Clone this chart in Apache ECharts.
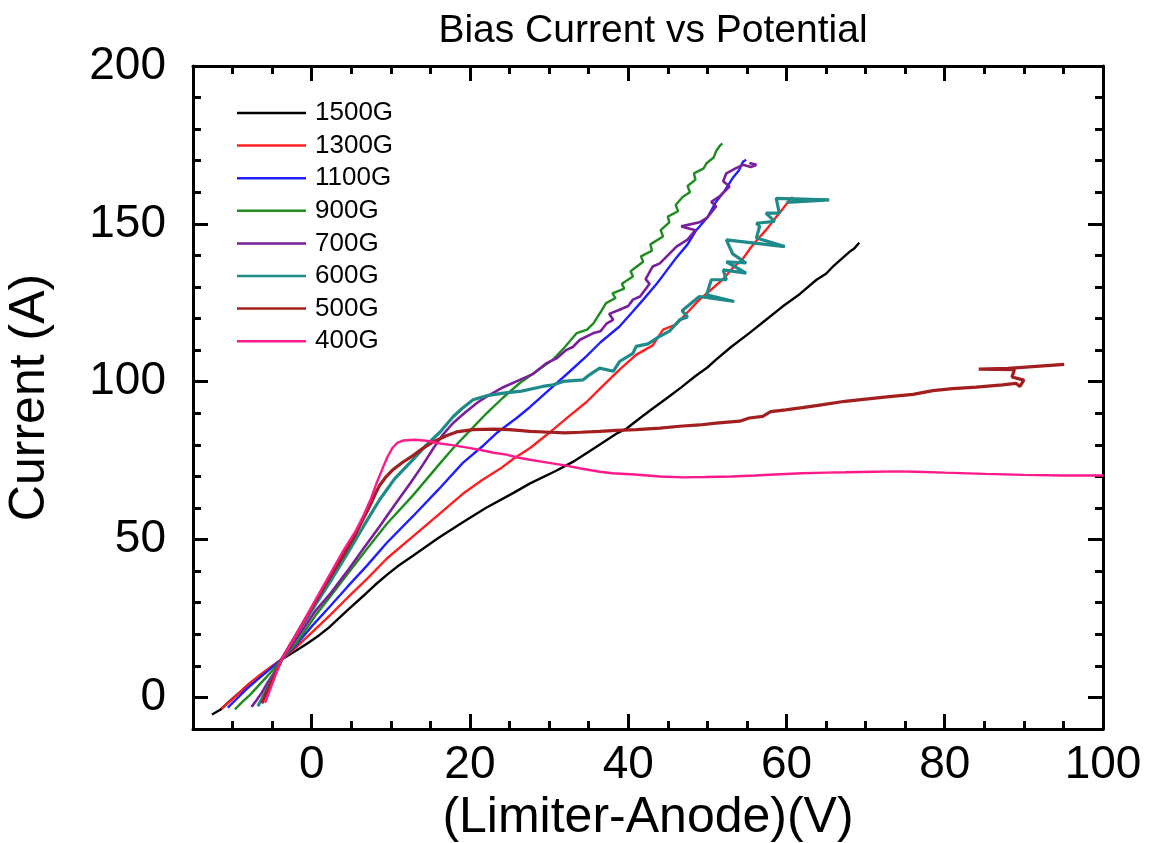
<!DOCTYPE html>
<html>
<head>
<meta charset="utf-8">
<script src="https://cdn.jsdelivr.net/npm/echarts@6/dist/echarts.min.js"></script>
<style>
html,body{margin:0;padding:0;background:#fff;}
#chart{width:1151px;height:843px;}
</style>
</head>
<body>
<div id="chart"></div>
<script>
// ---- data: [potential (V), current (A)] ----
const seriesNames = ['1500G','1300G','1100G','900G','700G','600G','500G','400G'];
const seriesColors = ['#000000','#ff1f1f','#1f1fff','#1e8c1e','#7a1e9c','#1e8a8a','#a31f1f','#ff1a8c'];

const g1500 = [[-12.6,-5.4],[-11.5,-3.8],[-10.3,-1],[-9,1.8],[-7.8,4.5],[-6.5,7],[-5.2,9.5],[-3.8,12],[-2,14.8],[-0.6,17],[1,19.8],[2.3,22.4],[4.5,27.6],[6.9,33],[8,35.6],[9.5,38.8],[11,41.8],[12.8,44.9],[16,50.5],[19.1,55.5],[22,60],[25.5,64.8],[27.6,67.8],[30.9,71.8],[33,74.6],[35.6,78.8],[38.5,83.5],[39.8,85.2],[41.5,88.5],[43.1,91.5],[45,95],[46.7,98.2],[48.5,101.8],[50,104.5],[51.1,107],[53,111],[55.3,115.4],[57.5,119.8],[59.5,123.8],[61.7,127.8],[63.8,132.3],[65,134.2],[66,136.8],[67,139],[68,141.2],[68.6,142.3],[69.2,144]];
const g1300 = [[-11.4,-3.6],[-10.3,-1.2],[-9,1.8],[-7.8,4.5],[-6.5,7.2],[-5.2,9.6],[-3.8,12],[-2,15.8],[0,20.5],[2.3,26],[4.5,31.5],[6.9,37.3],[9.5,44],[12.8,51],[16,57.8],[19.1,64.5],[21.5,68.8],[23.8,72.4],[25.5,75.6],[27.6,79],[30.5,84.8],[32.5,89],[34.7,93.5],[36.5,98],[38.9,103.8],[41,108.5],[43.1,111.5],[44.4,116.5],[46.1,118.2],[47.5,122],[49,126],[50.5,129.2],[52,132.5],[53.2,136],[54.5,139],[55.5,142.5],[56.5,145.5],[57.4,148],[58.5,151.5],[59.3,154],[60.4,157.6],[60.8,158.5]];
const g1100 = [[-10.6,-3.2],[-9.5,-0.5],[-8.3,2.5],[-7,5.3],[-5.5,8.5],[-3.8,12],[-2,16.5],[0,22.5],[2.3,28.8],[4.5,35],[6.9,41.5],[9.5,49],[12.8,57.4],[16,65.8],[19.1,74.3],[21.7,79.8],[23.5,84],[25.9,88.5],[27.6,92],[30.5,98.5],[32.5,103],[34.7,108],[36.5,112.5],[38.9,117.5],[40.5,122],[41.9,126],[43.6,131],[44.5,134],[46,139],[47.5,143.5],[48.6,148],[50,152],[51.1,157],[52.2,160.5],[53.2,164.5],[54,167],[54.5,169.7],[54.9,170.3]];
const g900 = [[-9.7,-3.8],[-8.8,-1.5],[-7.8,0.8],[-6.8,3.5],[-5.7,6.5],[-4.8,9],[-3.8,12],[-2,17],[0.5,26],[2.3,31.8],[4.5,39],[6.9,46.8],[9.5,55],[12.8,64],[16,73.5],[17.9,79],[20,84.5],[22.1,90],[24.2,95],[26.3,99.6],[28.5,103.5],[30.5,107],[32,111],[33.5,115.4],[34.8,116.5],[35.6,118.5],[36.5,122],[37.2,124.9],[38.4,126.5],[38,128],[39.5,129.5],[39.2,131],[40.6,133.3],[40.3,135],[41.9,138],[41.6,139.7],[43,141.5],[42.8,143.5],[44.4,146],[44.1,148],[45.2,150.5],[45,152.3],[46.3,154],[46,156],[46.9,158.6],[47.8,160],[47.5,162],[48.5,164],[48.3,166],[49.5,167.5],[49.9,169.2],[50.8,171],[51.1,173],[51.6,174.8],[51.9,175.5]];
const g700 = [[-7.6,-3],[-7,-1],[-6.3,1.5],[-5.5,5],[-4.6,8.5],[-3.8,12],[-2.5,16.5],[-1,22],[0.5,27.5],[2.3,32.7],[4.5,40],[6.5,47],[8.6,54.2],[10.5,61],[12.5,68],[14,73.5],[15.4,79],[16.5,83],[17.9,87],[19.5,90.5],[21,93.5],[22.1,95.3],[24,98],[26.3,100.6],[28,102.5],[29.7,105.9],[31,107.5],[32.2,110.1],[33,111],[33.9,113.3],[35.6,115.4],[36.5,116],[37.3,118.5],[38.1,119.6],[37.6,121.5],[38.9,122.8],[40,124],[40.6,126],[41.5,127],[42.7,131],[42.2,132.5],[43.1,136.5],[44,137.5],[45,140],[46.1,142.8],[47.5,145],[48.5,148],[46.7,149.2],[49,150.5],[50,152],[51.1,155.5],[50.5,157],[51.5,158.6],[52.8,161.8],[52,163.5],[52.4,166],[53.5,167.5],[54.5,168.7],[55.5,168],[56.2,168.7],[55.3,169.3]];
const g600 = [[-6.8,-2.8],[-6.3,-0.5],[-5.6,3],[-4.8,7],[-3.8,12],[-2.5,17.5],[-1,23.5],[0.5,29.5],[2.3,36.5],[4.5,45.5],[6.5,54],[8.6,62.7],[10.5,69.3],[12.8,75.3],[14.5,80],[16.2,84],[17.9,89],[19,91.5],[20.4,94.3],[22,95.5],[24.2,96.4],[26.5,97],[29.2,98.5],[30.5,99],[31.8,100.1],[34.3,100.6],[35,102],[36.4,104.3],[38.1,103.3],[38.9,106.4],[40.6,109],[41,111.2],[42.5,112],[44,114.4],[43.6,113.8],[45.2,116],[46.5,119.6],[47.5,120.5],[46.8,122.5],[49,127],[53.4,125.4],[49.9,127.5],[50.5,132.3],[52.4,132.3],[52,135.4],[54.9,134.4],[52.4,138],[54.9,137.6],[53.2,140.5],[52.4,144.9],[59.8,142.8],[56.2,145.5],[56.6,149.2],[56.2,150.2],[58.5,150.8],[57.4,153.4],[59.1,153.4],[58.7,158.1],[65.4,157.6],[60,156.8]];
const g500 = [[-6.3,-1.9],[-5.9,0.5],[-5.3,4],[-4.6,7.5],[-3.8,12],[-2.5,17.5],[-1,24],[0.5,30.5],[2.3,38],[4,45],[5.5,51.5],[6.5,56.5],[7.5,61.5],[8.1,64.8],[8.6,67.2],[9.3,69.6],[10.3,72.2],[11.5,74.5],[12.8,76.6],[14,78.8],[15.4,81],[17,82.9],[18.3,84.1],[20.4,84.8],[23,85],[25,84.8],[27.6,84.3],[30.1,84],[32,83.8],[34,84],[36.4,84.3],[38.5,84.6],[41,84.8],[44,85.3],[46.5,85.9],[49,86.3],[51.1,86.9],[54.1,87.5],[55.3,88.5],[57,89],[58,90.5],[59.9,91.1],[62,91.8],[64,92.5],[67.4,93.8],[70,94.5],[73,95.3],[76,96],[78.5,97.2],[81,97.8],[84,98.3],[87.3,99],[89,99.5],[89.5,98.5],[90,100.5],[88.5,101.5],[88.8,103.8],[84.3,104],[88,104.2],[95.1,105.5]];
const g400 = [[-5.9,-1.7],[-5.4,1.5],[-4.8,5.5],[-4.3,9],[-3.8,12],[-2.5,17.5],[-1,24],[0.5,31],[2.3,39],[4,46.5],[5.5,52.5],[6.5,57.4],[7.5,63],[8.2,67.9],[9,72.8],[9.6,76.3],[10.2,79],[10.8,80.6],[11.6,81.4],[13,81.6],[14.5,81.3],[16,80.5],[17.5,80],[19.5,79.2],[21.5,78.3],[23,77.5],[24.6,76.9],[26,76],[27.6,75.3],[30,74.3],[32,73.5],[34,72.5],[36.4,71.5],[38,71],[40.8,70.6],[44,70],[47,69.7],[49.7,69.8],[53,70],[56,70.3],[58.5,70.6],[62,71],[65,71.2],[67.4,71.3],[71,71.5],[74,71.6],[76.3,71.5],[80,71.2],[85.1,70.8],[90,70.5],[95,70.3],[100,70.3]];

const seriesData = [g1500,g1300,g1100,g900,g700,g600,g500,g400];
const seriesWidths = [2.4,2.4,2.4,2.4,2.6,3.2,3.2,2.4];

// ---- axes ----
const xMin = -15, xMax = 100;
const yMin = -10, yMax = 200;
const xMajorTicks = [0,20,40,60,80,100];
const xMinorTicks = [-10,-5,5,10,15,25,30,35,45,50,55,65,70,75,85,90,95];
const yMajorTicks = [0,50,100,150,200];
const yMinorTicks = [10,20,30,40,60,70,80,90,110,120,130,140,160,170,180,190];

const FONT = '"Liberation Sans", Arial, Helvetica, sans-serif';
const chart = echarts.init(document.getElementById('chart'), null, {renderer:'canvas'});

function xAx(pos, ticks, len, main) {
  return {
    type:'value', position:pos, min:xMin, max:xMax, gridIndex:0,
    axisLine:{show:main, onZero:false, lineStyle:{color:'#000', width:3}},
    axisTick:{show:true, inside:true, length:len, customValues:ticks, lineStyle:{color:'#000', width:3}},
    axisLabel:{show:main && pos==='bottom', customValues:xMajorTicks, fontSize:46, color:'#000', margin:13, fontFamily:FONT},
    splitLine:{show:false},
    name: (main && pos==='bottom') ? '(Limiter-Anode)(V)' : '',
    nameLocation:'middle', nameGap:57,
    nameTextStyle:{fontSize:50, color:'#000', fontFamily:FONT}
  };
}
function yAx(pos, ticks, len, main) {
  return {
    type:'value', position:pos, min:yMin, max:yMax, gridIndex:0,
    axisLine:{show:main, onZero:false, lineStyle:{color:'#000', width:3}},
    axisTick:{show:true, inside:true, length:len, customValues:ticks, lineStyle:{color:'#000', width:3}},
    axisLabel:{show:main && pos==='left', customValues:yMajorTicks, fontSize:46, color:'#000', margin:27, fontFamily:FONT},
    splitLine:{show:false},
    name: (main && pos==='left') ? 'Current (A)' : '',
    nameLocation:'middle', nameGap:138,
    nameTextStyle:{fontSize:50, color:'#000', fontFamily:FONT}
  };
}

const option = {
  backgroundColor:'#fff',
  animation:false,
  textStyle:{fontFamily:FONT},
  title:{
    text:'Bias Current vs Potential', left:648, top:7, textAlign:'center',
    textStyle:{fontSize:39, fontWeight:'normal', color:'#000', fontFamily:FONT}
  },
  grid:{left:193, right:48, top:66, bottom:114, containLabel:false, outerBoundsMode:'none'},
  legend:{
    data:seriesNames.map(n=>({name:n, icon:'rect'})), orient:'vertical', left:237, top:100, padding:0,
    itemWidth:69, itemHeight:2.5, itemGap:6.6,
    textStyle:{fontSize:26, color:'#000', lineHeight:24, padding:[0,0,0,4], fontFamily:FONT},
    selectedMode:false
  },
  xAxis:[
    xAx('bottom', xMajorTicks, 15, true),
    xAx('bottom', xMinorTicks, 8, false),
    xAx('top', xMajorTicks, 15, true),
    xAx('top', xMinorTicks, 8, false)
  ],
  yAxis:[
    yAx('left', yMajorTicks, 15, true),
    yAx('left', yMinorTicks, 8, false),
    yAx('right', yMajorTicks, 15, true),
    yAx('right', yMinorTicks, 8, false)
  ],
  series: seriesNames.map((n,i)=>({
    name:n, type:'line', xAxisIndex:0, yAxisIndex:0,
    data:seriesData[i], symbol:'none', showSymbol:false, smooth:false,
    lineStyle:{color:seriesColors[i], width:seriesWidths[i]},
    itemStyle:{color:seriesColors[i]},
    emphasis:{disabled:true}
  }))
};
chart.setOption(option);
</script>
</body>
</html>
